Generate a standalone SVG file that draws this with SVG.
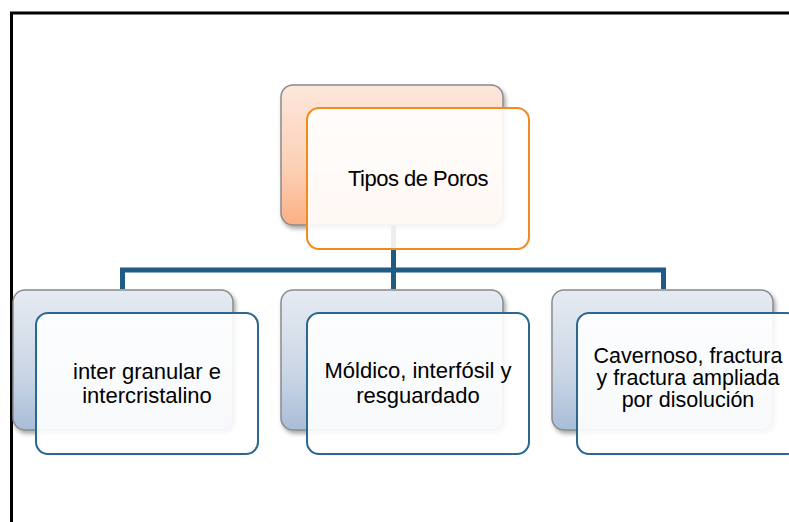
<svg xmlns="http://www.w3.org/2000/svg" width="789" height="522" viewBox="0 0 789 522">
<defs>
<linearGradient id="gOrange" x1="0" y1="0" x2="0" y2="1">
<stop offset="0" stop-color="#fde7dc"/>
<stop offset="0.6" stop-color="#fcd0b5"/>
<stop offset="1" stop-color="#fbb085"/>
</linearGradient>
<linearGradient id="gBlue" x1="0" y1="0" x2="0" y2="1">
<stop offset="0" stop-color="#e6ebf2"/>
<stop offset="0.6" stop-color="#cad6e5"/>
<stop offset="1" stop-color="#a8bdd8"/>
</linearGradient>
<filter id="sh" x="-10%" y="-10%" width="130%" height="130%">
<feDropShadow dx="2" dy="3" stdDeviation="2" flood-color="#000" flood-opacity="0.35"/>
</filter>
</defs>
<style>
.frame{fill:none;stroke:#000;stroke-width:3}
.conn{fill:none;stroke:#1f5b83;stroke-width:5;stroke-linejoin:miter}
.backO{fill:url(#gOrange);stroke:#8a8a8a;stroke-width:1.5;filter:url(#sh)}
.backB{fill:url(#gBlue);stroke:#8a8a8a;stroke-width:1.5;filter:url(#sh)}
.frontO{fill:#ffffff;fill-opacity:0.9;stroke:#f28a1e;stroke-width:2}
.frontB{fill:#ffffff;fill-opacity:0.9;stroke:#2b6790;stroke-width:2}
.t{font-family:"Liberation Sans",Arial,sans-serif;font-size:22px;fill:#000;text-anchor:middle}
.tt{letter-spacing:-0.5px}
.tr{font-size:21.5px}
</style>
<rect width="789" height="522" fill="#fff"/>
<rect class="frame" x="11.5" y="13" width="800" height="530"/>
<g id="connectors">
<path class="conn" d="M393.5 224 V289"/>
<path class="conn" d="M122.5 289 V270 H663.5 V289"/>
</g>
<g id="node-root">
<rect class="backO" x="281" y="85" width="222" height="140" rx="12"/>
<rect class="frontO" x="307" y="108" width="222" height="141" rx="12"/>
<text class="t tt" x="418" y="186">Tipos de Poros</text>
</g>
<g id="node-inter">
<rect class="backB" x="13" y="290" width="220" height="140" rx="12"/>
<rect class="frontB" x="36" y="313" width="222" height="141" rx="12"/>
<text class="t" x="147" y="379">inter granular e</text>
<text class="t" x="147" y="403">intercristalino</text>
</g>
<g id="node-moldico">
<rect class="backB" x="281" y="290" width="222" height="140" rx="12"/>
<rect class="frontB" x="307" y="313" width="222" height="141" rx="12"/>
<text class="t" x="418" y="378">Móldico, interfósil y</text>
<text class="t" x="418" y="403">resguardado</text>
</g>
<g id="node-cavernoso">
<rect class="backB" x="552" y="290" width="221" height="140" rx="12"/>
<rect class="frontB" x="577" y="313" width="222" height="141" rx="12"/>
<text class="t tr" x="688" y="363">Cavernoso, fractura</text>
<text class="t tr" x="688" y="385">y fractura ampliada</text>
<text class="t tr" x="688" y="407">por disolución</text>
</g>
</svg>
